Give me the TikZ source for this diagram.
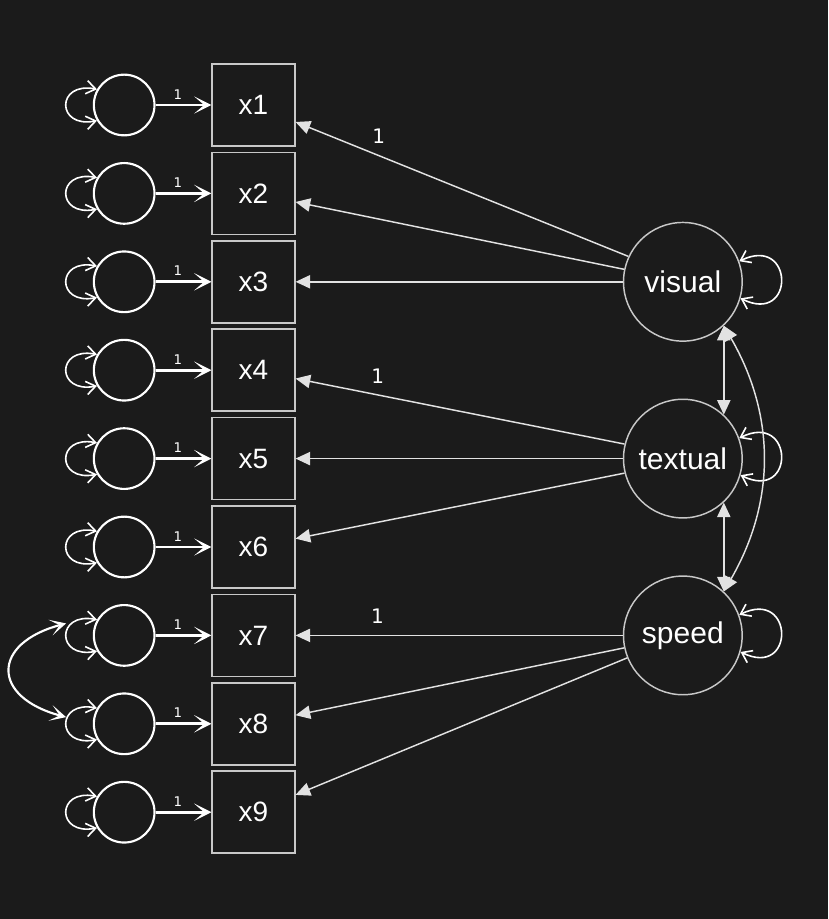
\documentclass[tikz,border=0pt]{standalone}
\usepackage{fontspec}
\setmainfont{Liberation Sans}
\newfontfamily\onefont{DejaVu Sans}
\usepackage{xcolor}
\usepackage{tikz}
\usetikzlibrary{shapes.geometric, arrows, arrows.meta}
\definecolor{bgdark}{HTML}{1B1B1B}
\definecolor{edgegray}{HTML}{C8C8C8}
\definecolor{linegray}{HTML}{E2E2E2}

\begin{document}
\begin{tikzpicture}[node distance=66.3pt, auto, x=0.75pt, y=0.75pt]
    % Define the style for the nodes
    \tikzstyle{obs} = [rectangle, draw=edgegray, line width=1.1pt, text=white, minimum width=62pt, minimum height=61.5pt, font=\fontsize{21}{25}\selectfont]
    \tikzstyle{latent} = [circle, draw=edgegray, line width=1.1pt, text=white, minimum size=89pt, inner sep=0pt, font=\fontsize{22.5}{27}\selectfont]
    \tikzstyle{errnode} = [circle, draw=white, line width=1.6pt, minimum size=45.5pt, inner sep=0pt]
    \tikzstyle{fixed} = [draw=white, line width=2.2pt, -{Stealth[length=13pt, width=13pt, inset=7.5pt]}]
    \tikzstyle{loading} = [draw=linegray, line width=1.1pt, -{Triangle[length=11pt, width=10pt]}]
    \tikzstyle{covar} = [draw=linegray, line width=1.1pt, {Triangle[length=11pt, width=10pt]}-{Triangle[length=11pt, width=10pt]}]
    \tikzstyle{errcovar} = [draw=white, line width=1.6pt, {Stealth[length=12pt, width=12pt, inset=7pt]}-{Stealth[length=12pt, width=12pt, inset=7pt]}]
    \tikzstyle{varloop} = [draw=white, line width=1.2pt, {Straight Barb[length=7pt, width=10pt]}-{Straight Barb[length=7pt, width=10pt]}]
    \tikzstyle{onelabel} = [text=white, font=\onefont\fontsize{10}{12}\selectfont]
    \tikzstyle{biglabel} = [text=white, font=\onefont\fontsize{15}{18}\selectfont]

    % Background and size of the page
    \useasboundingbox (-253.5,-814) rectangle (574.5,105);
    \fill [bgdark] (-253.5,-814) rectangle (574.5,105);

    % Place the nodes
    \node [obs] (x1) {x1};
    \node [obs, below of=x1] (x2) {x2};
    \node [obs, below of=x2] (x3) {x3};
    \node [obs, below of=x3] (x4) {x4};
    \node [obs, below of=x4] (x5) {x5};
    \node [obs, below of=x5] (x6) {x6};
    \node [obs, below of=x6] (x7) {x7};
    \node [obs, below of=x7] (x8) {x8};
    \node [obs, below of=x8] (x9) {x9};

    \node [errnode, left of=x1, node distance=97pt] (e1) {};
    \node [errnode, left of=x2, node distance=97pt] (e2) {};
    \node [errnode, left of=x3, node distance=97pt] (e3) {};
    \node [errnode, left of=x4, node distance=97pt] (e4) {};
    \node [errnode, left of=x5, node distance=97pt] (e5) {};
    \node [errnode, left of=x6, node distance=97pt] (e6) {};
    \node [errnode, left of=x7, node distance=97pt] (e7) {};
    \node [errnode, left of=x8, node distance=97pt] (e8) {};
    \node [errnode, left of=x9, node distance=97pt] (e9) {};

    \node [latent, right of=x3, node distance=322pt] (visual) {visual};
    \node [latent, right of=x5, node distance=322pt] (textual) {textual};
    \node [latent, right of=x7, node distance=322pt] (speed) {speed};

    % Connect the nodes with paths
    \path [fixed] (e1) -- node [onelabel, pos=0.4, above] {1} (x1);
    \path [fixed] (e2) -- node [onelabel, pos=0.4, above] {1} (x2);
    \path [fixed] (e3) -- node [onelabel, pos=0.4, above] {1} (x3);
    \path [fixed] (e4) -- node [onelabel, pos=0.4, above] {1} (x4);
    \path [fixed] (e5) -- node [onelabel, pos=0.4, above] {1} (x5);
    \path [fixed] (e6) -- node [onelabel, pos=0.4, above] {1} (x6);
    \path [fixed] (e7) -- node [onelabel, pos=0.4, above] {1} (x7);
    \path [fixed] (e8) -- node [onelabel, pos=0.4, above] {1} (x8);
    \path [fixed] (e9) -- node [onelabel, pos=0.4, above] {1} (x9);

    \path [varloop] (e1.150) .. controls +(-41,8) and +(-41,-8) .. (e1.210);
    \path [varloop] (e2.150) .. controls +(-41,8) and +(-41,-8) .. (e2.210);
    \path [varloop] (e3.150) .. controls +(-41,8) and +(-41,-8) .. (e3.210);
    \path [varloop] (e4.150) .. controls +(-41,8) and +(-41,-8) .. (e4.210);
    \path [varloop] (e5.150) .. controls +(-41,8) and +(-41,-8) .. (e5.210);
    \path [varloop] (e6.150) .. controls +(-41,8) and +(-41,-8) .. (e6.210);
    \path [varloop] (e7.150) .. controls +(-41,8) and +(-41,-8) .. (e7.210);
    \path [varloop] (e8.150) .. controls +(-41,8) and +(-41,-8) .. (e8.210);
    \path [varloop] (e9.150) .. controls +(-41,8) and +(-41,-8) .. (e9.210);

    \path [errcovar] ([xshift=-20pt, yshift=9pt]e7.west) .. controls +(-75,-20) and +(-75,20) .. ([xshift=-20pt, yshift=5pt]e8.west);

    \path [loading] (visual.155) -- node [biglabel, pos=0.75, above=5pt] {1} (x1);
    \path [loading] (visual.168) -- (x2);
    \path [loading] (visual.180) -- (x3);
    \path [loading] (textual.166) -- node [biglabel, pos=0.75, above=5pt] {1} (x4);
    \path [loading] (textual.180) -- (x5);
    \path [loading] (textual.194) -- (x6);
    \path [loading] (speed.180) -- node [biglabel, pos=0.75, above=5pt] {1} (x7);
    \path [loading] (speed.192) -- (x8);
    \path [loading] (speed.202) -- (x9);

    \path [varloop] (visual.20) .. controls +(55,27) and +(55,-27) .. (visual.-16);
    \path [varloop] (textual.20) .. controls +(55,27) and +(55,-27) .. (textual.-16);
    \path [varloop] (speed.20) .. controls +(55,27) and +(55,-27) .. (speed.-16);

    \path [covar] (visual.-47) -- (textual.47);
    \path [covar] (textual.-47) -- (speed.47);
    \path [covar] (visual.-47) to [bend left=30] (speed.47);
\end{tikzpicture}
\end{document}
